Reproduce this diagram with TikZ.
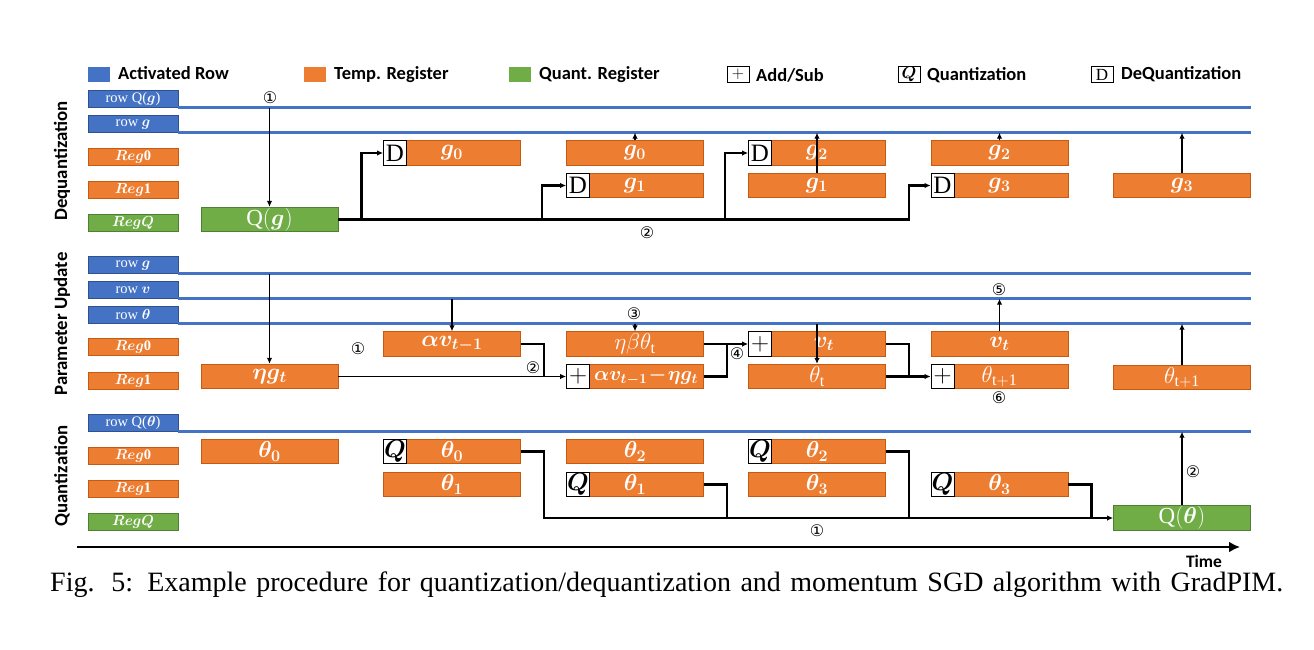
\RequirePackage{fix-cm}
\documentclass[tikz,border=0pt]{standalone}
\usepackage{fontspec}
\usepackage{amsmath,bm}
\usetikzlibrary{arrows.meta}
\setmainfont{Liberation Serif}
\newfontfamily\carlito{Carlito}
\newfontfamily\dejavu{DejaVu Sans}
\definecolor{cblue}{HTML}{4472C4}
\definecolor{cblueD}{HTML}{2F528F}
\definecolor{corange}{HTML}{ED7D31}
\definecolor{corangeD}{HTML}{C55A11}
\definecolor{cgreen}{HTML}{70AD47}
\definecolor{cgreenD}{HTML}{507E32}
\tikzset{
 lbl/.style={minimum width=90pt, minimum height=16.5pt, inner sep=0pt, text=white, line width=0.8pt, font=\fontsize{14.5}{15}\selectfont},
 rowlbl/.style={lbl, fill=cblue, draw=cblueD},
 reglbl/.style={lbl, fill=corange, draw=corangeD},
 qlbl/.style={lbl, fill=cgreen, draw=cgreenD},
 obox/.style={minimum width=137pt, minimum height=24.5pt, inner sep=0pt, fill=corange, draw=corangeD, line width=0.8pt, text=white, font=\fontsize{23}{24}\selectfont},
 gbox/.style={obox, fill=cgreen, draw=cgreenD},
 opbox/.style={minimum width=23pt, minimum height=24.5pt, inner sep=0pt, fill=white, draw=black, line width=0.8pt, font=\fontsize{25}{26}\selectfont, anchor=west},
 legsq/.style={minimum width=22pt, minimum height=15.5pt, inner sep=0pt},
 legop/.style={legsq, draw=black, fill=white, line width=0.8pt, font=\fontsize{17}{18}\selectfont},
 legtxt/.style={anchor=west, inner sep=0pt, font=\carlito\bfseries\fontsize{18.5}{20}\selectfont},
 rowline/.style={cblue, line width=2.8pt},
 bus/.style={black, line width=2.2pt},
 thin/.style={black, line width=1.5pt},
 tip/.style={-{Latex[length=6pt,width=5.5pt]}},
 arr/.style={black, line width=1.6pt, tip},
 num/.style={inner sep=0pt, font=\dejavu\fontsize{16}{16}\selectfont},
 sect/.style={rotate=90, inner sep=0pt, font=\carlito\bfseries\fontsize{18.8}{20}\selectfont},
}
\begin{document}
\begin{tikzpicture}[x=1pt,y=-1pt]
\useasboundingbox (0,0) rectangle (1314,649);
\coordinate (Rend) at (1251,0);
% legend
\node[legsq, fill=cblue] (lgA) at (99,74.5) {};
\node[legtxt] (lgAt) at (118,73) {Activated Row};
\node[legsq, fill=corange] (lgB) at (315,74.5) {};
\node[legtxt] (lgBt) at (334,75) {Temp. Register};
\node[legsq, fill=cgreen] (lgC) at (520,74.5) {};
\node[legtxt] (lgCt) at (539,75) {Quant. Register};
\node[legop] (lgD) at (738,74.5) {$+$};
\node[legtxt] (lgDt) at (756,75) {Add/Sub};
\node[legop] (lgE) at (909,74.5) {$\bm{Q}$};
\node[legtxt] (lgEt) at (927,75) {Quantization};
\node[legop] (lgF) at (1102,74.5) {D};
\node[legtxt] (lgFt) at (1121,74) {DeQuantization};
% section titles
\node[sect] (sDeq) at (62,161) {Dequantization};
\node[sect] (sPar) at (62,324) {Parameter Update};
\node[sect] (sQua) at (62,476) {Quantization};
% left labels
\node[rowlbl] (dRq) at (133,99) {row Q($\bm{g}$)};
\node[rowlbl] (dRg) at (133,124) {row $\bm{g}$};
\node[reglbl] (dR0) at (133,157) {$\bm{Reg}\mathbf{0}$};
\node[reglbl] (dR1) at (133,190) {$\bm{Reg}\mathbf{1}$};
\node[qlbl] (dRQ) at (133,223) {$\bm{RegQ}$};
\node[rowlbl] (pRg) at (133,265) {row $\bm{g}$};
\node[rowlbl] (pRv) at (133,290) {row $\bm{v}$};
\node[rowlbl] (pRt) at (133,315) {row $\bm{\theta}$};
\node[reglbl] (pR0) at (133,347) {$\bm{Reg}\mathbf{0}$};
\node[reglbl] (pR1) at (133,381) {$\bm{Reg}\mathbf{1}$};
\node[rowlbl] (qRq) at (133,423) {row Q($\bm{\theta}$)};
\node[reglbl] (qR0) at (133,456) {$\bm{Reg}\mathbf{0}$};
\node[reglbl] (qR1) at (133,489) {$\bm{Reg}\mathbf{1}$};
\node[qlbl] (qRQ) at (133,522) {$\bm{RegQ}$};
% activated row lines
\draw[rowline] (dRq.south east) -- (dRq.south east -| Rend);
\draw[rowline] (dRg.south east) -- (dRg.south east -| Rend);
\draw[rowline] (pRg.south east) -- (pRg.south east -| Rend);
\draw[rowline] (pRv.south east) -- (pRv.south east -| Rend);
\draw[rowline] (pRt.south east) -- (pRt.south east -| Rend);
\draw[rowline] (qRq.south east) -- (qRq.south east -| Rend);

% ---------------- Dequantization
\node[gbox] (qg) at (269.5,219.5) {$\mathrm{Q}(\bm{g})$};
\node[obox] (d2a) at (452,153) {$\bm{g_0}$};
\node[opbox] (dD2) at (d2a.west) {D};
\node[obox] (d3a) at (635,153) {$\bm{g_0}$};
\node[obox] (d3b) at (635,185.5) {$\bm{g_1}$};
\node[opbox] (dD3) at (d3b.west) {D};
\node[obox] (d4a) at (817,153) {$\bm{g_2}$};
\node[opbox] (dD4) at (d4a.west) {D};
\node[obox] (d4b) at (817,185.5) {$\bm{g_1}$};
\node[obox] (d5a) at (999.5,153) {$\bm{g_2}$};
\node[obox] (d5b) at (999.5,185.5) {$\bm{g_3}$};
\node[opbox] (dD5) at (d5b.west) {D};
\node[obox] (d6b) at (1182,185.5) {$\bm{g_3}$};

\draw[arr] (qg.north |- dRq.south) -- (qg.north);
\node[num] (n1a) at (270,98) {①};
\draw[bus, tip] (qg.east) -- ([xshift=-22pt]qg.east -| dD5.west) |- (dD5.west);
\draw[bus, tip] ([xshift=23pt]qg.east) |- (dD2.west);
\draw[bus, tip] ([xshift=-24pt]qg.east -| dD3.west) |- (dD3.west);
\draw[bus, tip] ([xshift=-23pt]qg.east -| dD4.west) |- (dD4.west);
\node[num] (n2a) at (647,233) {②};
\draw[arr] (d3a.north) -- (d3a.north |- dRg.south);
\draw[arr] (d4b.north) -- (d4b.north |- dRg.south);
\draw[arr] (d5a.north) -- (d5a.north |- dRg.south);
\draw[arr] (d6b.north) -- (d6b.north |- dRg.south);

% ---------------- Parameter update
\node[obox] (p1b) at (269.5,376.5) {$\bm{\eta g_t}$};
\node[obox] (p2a) at (452,344) {$\bm{\alpha v_{t-1}}$};
\node[obox] (p3a) at (635,344) {$\eta\beta\theta_{\mathrm{t}}$};
\node[obox, font=\fontsize{20}{22}\selectfont] (p3b) at (635,376.5) {\hspace*{22pt}{\boldmath$\alpha v_{t-1}\!-\!\eta g_t$}};
\node[opbox] (pP3) at (p3b.west) {$+$};
\node[obox] (p4a) at (817,344) {\hspace*{14pt}$\bm{v_t}$};
\node[opbox] (pP4) at (p4a.west) {$+$};
\node[obox] (p4b) at (817,376.5) {$\theta_{\mathrm{t}}$};
\node[obox] (p5a) at (999.5,344) {$\bm{v_t}$};
\node[obox] (p5b) at (999.5,376.5) {$\theta_{\mathrm{t+1}}$};
\node[opbox] (pP5) at (p5b.west) {$+$};
\node[obox] (p6b) at (1182,377.5) {$\theta_{\mathrm{t+1}}$};

\draw[arr] (p1b.north |- pRg.south) -- (p1b.north);
\draw[arr] (p2a.north |- pRv.south) -- (p2a.north);
\draw[arr] (p3a.north |- pRt.south) -- (p3a.north);
\draw[thin, tip] (p1b.east) -- (pP3.west);
\draw[bus] (p2a.east) -- ([xshift=23pt]p2a.east) -- ([xshift=23pt]p2a.east |- p1b.east);
\draw[bus, tip] (p3a.east) -- (pP4.west);
\draw[bus] (p3b.east) -- ([xshift=23pt]p3b.east) -- ([xshift=23pt]p3b.east |- p3a.east);
\draw[bus, tip] (p4b.east) -- (pP5.west);
\draw[bus] (p4a.east) -- ([xshift=23pt]p4a.east) -- ([xshift=23pt]p4a.east |- p4b.east);
\draw[arr] (p4b.north |- pRt.south) -- (p4b.north);
\draw[arr] (p5a.north) -- (p5a.north |- pRv.south);
\draw[arr] (p6b.north) -- (p6b.north |- pRt.south);
\node[num] (n1p) at (358,349) {①};
\node[num] (n2p) at (533,368) {②};
\node[num] (n3p) at (634,314) {③};
\node[num] (n4p) at (737,354) {④};
\node[num] (n5p) at (999,290) {⑤};
\node[num] (n6p) at (999,398) {⑥};

% ---------------- Quantization
\node[obox] (q1a) at (269.5,451.5) {$\bm{\theta_0}$};
\node[obox] (q2a) at (452,451.5) {$\bm{\theta_0}$};
\node[opbox] (qQ2) at (q2a.west) {$\bm{Q}$};
\node[obox] (q2b) at (452,484.5) {$\bm{\theta_1}$};
\node[obox] (q3a) at (635,451.5) {$\bm{\theta_2}$};
\node[obox] (q3b) at (635,484.5) {$\bm{\theta_1}$};
\node[opbox] (qQ3) at (q3b.west) {$\bm{Q}$};
\node[obox] (q4a) at (817,451.5) {$\bm{\theta_2}$};
\node[opbox] (qQ4) at (q4a.west) {$\bm{Q}$};
\node[obox] (q4b) at (817,484.5) {$\bm{\theta_3}$};
\node[obox] (q5b) at (999.5,484.5) {$\bm{\theta_3}$};
\node[opbox] (qQ5) at (q5b.west) {$\bm{Q}$};
\node[gbox] (q6c) at (1182,518) {$\mathrm{Q}(\bm{\theta})$};

\draw[bus, tip] (q2a.east) -- ([xshift=23pt]q2a.east) |- (q6c.west);
\draw[bus] (q3b.east) -- ([xshift=23pt]q3b.east) -- ([xshift=23pt]q3b.east |- q6c.west);
\draw[bus] (q4a.east) -- ([xshift=23pt]q4a.east) -- ([xshift=23pt]q4a.east |- q6c.west);
\draw[bus] (q5b.east) -- ([xshift=23pt]q5b.east) -- ([xshift=23pt]q5b.east |- q6c.west);
\draw[arr] (q6c.north) -- (q6c.north |- qRq.south);
\node[num] (n1q) at (817,531) {①};
\node[num] (n2q) at (1193,472) {②};

% time axis
\coordinate (T0) at (77,547);
\coordinate (T1) at (1240,547);
\draw[black, line width=2.8pt, -{Latex[length=11pt,width=11pt]}] (T0) -- (T1);
\node[inner sep=0pt, font=\carlito\bfseries\fontsize{17.5}{18}\selectfont] (time) at (1204,561) {Time};

% caption
\node[anchor=west, inner sep=0pt, font=\fontsize{28}{30}\selectfont] (cap) at (50,585)
 {\makebox[1233pt][s]{Fig. 5: Example procedure for quantization/dequantization and momentum SGD algorithm with GradPIM.}};
\end{tikzpicture}
\end{document}
